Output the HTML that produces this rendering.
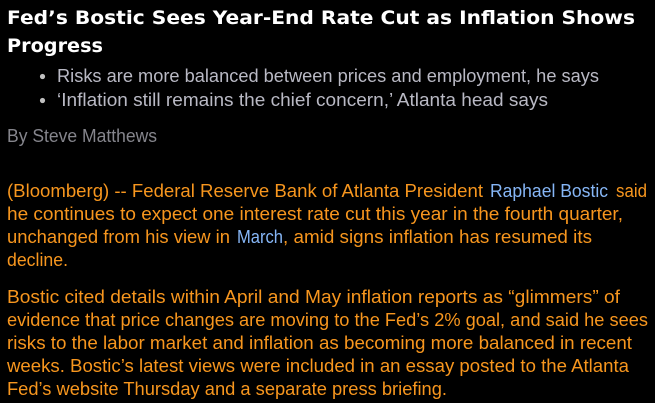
<!DOCTYPE html>
<html>
<head>
<meta charset="utf-8">
<style>
html,body{margin:0;padding:0;background:#000;}
body{width:655px;height:403px;overflow:hidden;}
svg{display:block;}
text{font-family:"Liberation Sans",Arial,sans-serif;}
.t{font-family:"DejaVu Sans","Liberation Sans",sans-serif;font-weight:bold;font-size:19px;fill:#ffffff;}
.b{font-size:18px;fill:#b9b9c4;}
.by{font-size:18px;fill:#85858c;}
.o{font-size:18px;fill:#f7961e;}
.l{font-size:18px;fill:#86b6f6;}
</style>
</head>
<body>
<svg width="655" height="403" viewBox="0 0 655 403" xmlns="http://www.w3.org/2000/svg">
<rect width="655" height="403" fill="#000"/>
<text class="t" x="7" y="24" textLength="628" lengthAdjust="spacingAndGlyphs">Fed’s Bostic Sees Year-End Rate Cut as Inflation Shows</text>
<text class="t" x="7" y="52" textLength="96" lengthAdjust="spacingAndGlyphs">Progress</text>

<circle cx="42.5" cy="76.5" r="2.6" fill="#c0c0c0"/>
<text class="b" x="57" y="82" textLength="542" lengthAdjust="spacingAndGlyphs">Risks are more balanced between prices and employment, he says</text>
<circle cx="42.5" cy="100.5" r="2.6" fill="#c0c0c0"/>
<text class="b" x="57" y="106" textLength="491" lengthAdjust="spacingAndGlyphs">‘Inflation still remains the chief concern,’ Atlanta head says</text>

<text class="by" x="7" y="142" textLength="150" lengthAdjust="spacingAndGlyphs">By Steve Matthews</text>

<text class="o" x="7" y="197" textLength="476" lengthAdjust="spacingAndGlyphs">(Bloomberg) -- Federal Reserve Bank of Atlanta President</text>
<text class="l" x="490" y="197" textLength="118" lengthAdjust="spacingAndGlyphs">Raphael Bostic</text>
<text class="o" x="616" y="197" textLength="31" lengthAdjust="spacingAndGlyphs">said</text>
<text class="o" x="7" y="220" textLength="616" lengthAdjust="spacingAndGlyphs">he continues to expect one interest rate cut this year in the fourth quarter,</text>
<text class="o" x="7" y="243" textLength="223" lengthAdjust="spacingAndGlyphs">unchanged from his view in</text>
<text class="l" x="237" y="243" textLength="46" lengthAdjust="spacingAndGlyphs">March</text>
<text class="o" x="283" y="243" textLength="309" lengthAdjust="spacingAndGlyphs">, amid signs inflation has resumed its</text>
<text class="o" x="7" y="266" textLength="61" lengthAdjust="spacingAndGlyphs">decline.</text>

<text class="o" x="7" y="303" textLength="613" lengthAdjust="spacingAndGlyphs">Bostic cited details within April and May inflation reports as “glimmers” of</text>
<text class="o" x="7" y="326" textLength="641" lengthAdjust="spacingAndGlyphs">evidence that price changes are moving to the Fed’s 2% goal, and said he sees</text>
<text class="o" x="7" y="349" textLength="625" lengthAdjust="spacingAndGlyphs">risks to the labor market and inflation as becoming more balanced in recent</text>
<text class="o" x="7" y="372" textLength="622" lengthAdjust="spacingAndGlyphs">weeks. Bostic’s latest views were included in an essay posted to the Atlanta</text>
<text class="o" x="7" y="395" textLength="440" lengthAdjust="spacingAndGlyphs">Fed’s website Thursday and a separate press briefing.</text>
</svg>
</body>
</html>
